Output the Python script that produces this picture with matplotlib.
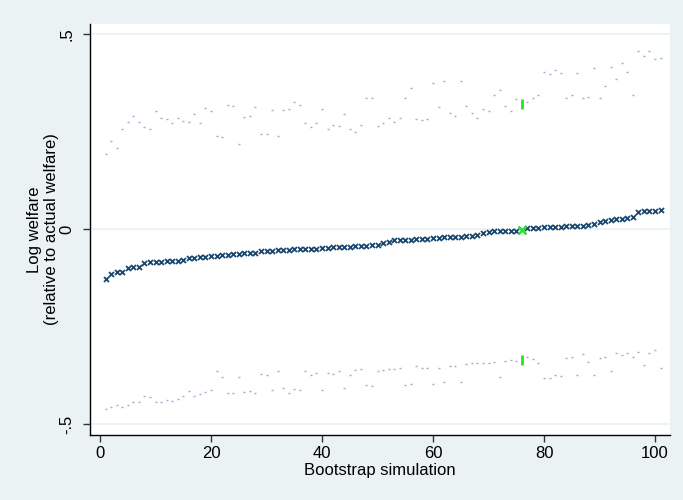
import numpy as np
import matplotlib.pyplot as plt

plt.rcParams['font.family'] = ['Liberation Sans', 'DejaVu Sans']

# bootstrap draws 1..101, sorted by point estimate
sim = np.arange(1, 102)

estimate = [
    -0.129, -0.115, -0.109, -0.109, -0.099, -0.097, -0.096, -0.086, -0.085, -0.085,
    -0.084, -0.082, -0.082, -0.081, -0.080, -0.075, -0.074, -0.072, -0.071, -0.068,
    -0.068, -0.067, -0.067, -0.064, -0.063, -0.062, -0.061, -0.060, -0.057, -0.057,
    -0.056, -0.054, -0.054, -0.053, -0.052, -0.051, -0.051, -0.050, -0.050, -0.049,
    -0.048, -0.047, -0.046, -0.045, -0.045, -0.044, -0.044, -0.043, -0.042, -0.041,
    -0.035, -0.032, -0.028, -0.028, -0.027, -0.027, -0.026, -0.025, -0.025, -0.024,
    -0.023, -0.021, -0.021, -0.020, -0.019, -0.018, -0.017, -0.016, -0.009, -0.007,
    -0.005, -0.005, -0.005, -0.005, -0.005, -0.001, 0.003, 0.003, 0.004, 0.005,
    0.005, 0.006, 0.006, 0.007, 0.008, 0.008, 0.009, 0.011, 0.014, 0.017,
    0.020, 0.024, 0.025, 0.026, 0.028, 0.030, 0.044, 0.046, 0.046, 0.047,
    0.048,
]

upper = [
    0.192, 0.227, 0.207, 0.256, 0.274, 0.289, 0.274, 0.263, 0.256, 0.302,
    0.285, 0.283, 0.271, 0.285, 0.277, 0.274, 0.296, 0.271, 0.311, 0.304,
    0.238, 0.235, 0.318, 0.315, 0.218, 0.288, 0.289, 0.314, 0.244, 0.245,
    0.306, 0.240, 0.306, 0.307, 0.327, 0.317, 0.273, 0.261, 0.271, 0.309,
    0.256, 0.268, 0.264, 0.296, 0.257, 0.250, 0.267, 0.336, 0.335, 0.265,
    0.271, 0.285, 0.274, 0.286, 0.337, 0.361, 0.282, 0.281, 0.282, 0.374,
    0.312, 0.379, 0.297, 0.289, 0.379, 0.315, 0.297, 0.286, 0.309, 0.303,
    0.344, 0.356, 0.315, 0.304, 0.333, 0.320, 0.325, 0.335, 0.343, 0.402,
    0.399, 0.409, 0.401, 0.336, 0.343, 0.401, 0.335, 0.338, 0.412, 0.336,
    0.368, 0.415, 0.384, 0.425, 0.404, 0.343, 0.456, 0.444, 0.456, 0.436,
    0.440,
]

lower = [
    -0.462, -0.456, -0.451, -0.456, -0.450, -0.443, -0.444, -0.428, -0.430, -0.444,
    -0.444, -0.439, -0.440, -0.435, -0.427, -0.416, -0.427, -0.424, -0.417, -0.413,
    -0.365, -0.380, -0.421, -0.421, -0.379, -0.419, -0.414, -0.421, -0.372, -0.373,
    -0.413, -0.365, -0.407, -0.421, -0.409, -0.412, -0.365, -0.374, -0.368, -0.412,
    -0.368, -0.372, -0.365, -0.407, -0.373, -0.362, -0.360, -0.400, -0.403, -0.365,
    -0.362, -0.360, -0.358, -0.357, -0.401, -0.398, -0.352, -0.355, -0.355, -0.396,
    -0.355, -0.392, -0.350, -0.350, -0.391, -0.347, -0.344, -0.344, -0.343, -0.344,
    -0.342, -0.378, -0.337, -0.336, -0.339, -0.335, -0.327, -0.334, -0.344, -0.383,
    -0.383, -0.375, -0.376, -0.331, -0.328, -0.375, -0.321, -0.340, -0.373, -0.331,
    -0.327, -0.365, -0.318, -0.324, -0.318, -0.327, -0.314, -0.348, -0.317, -0.309,
    -0.357,
]

actual_sim = 76  # the draw matching actual data

sim = np.asarray(sim)
estimate = np.asarray(estimate)
upper = np.asarray(upper)
lower = np.asarray(lower)
hit = sim == actual_sim

bg = '#EAF2F3'
navy = '#1A476F'
bound_c = '#97AFCA'
green = '#22E622'

fig = plt.figure(figsize=(6.83, 5.0), dpi=100, facecolor=bg)
ax = fig.add_axes([0.1318, 0.13, 0.8492, 0.822])
ax.set_facecolor('white')

for y in (-0.5, 0, 0.5):
    ax.axhline(y, color=bg, lw=1.2, zorder=0)

ax.plot(sim[~hit], upper[~hit], ls='none', marker='_', ms=2, mew=1.0, color=bound_c)
ax.plot(sim[~hit], lower[~hit], ls='none', marker='_', ms=2, mew=1.0, color=bound_c)
ax.plot(sim[~hit], estimate[~hit], ls='none', marker='x', ms=3.6, mew=1.3, color=navy)

ax.plot(sim[hit], upper[hit], ls='none', marker='|', ms=7, mew=2, color=green)
ax.plot(sim[hit], lower[hit], ls='none', marker='|', ms=7, mew=2, color=green)
ax.plot(sim[hit], estimate[hit], ls='none', marker='x', ms=6, mew=1.8, color=green)

ax.set_xlim(-1.8, 102.7)
ax.set_ylim(-0.528, 0.526)
ax.set_xticks([0, 20, 40, 60, 80, 100])
ax.set_yticks([-0.5, 0, 0.5])
ax.set_yticklabels(['-.5', '0', '.5'], rotation=90, va='center')

for s in ('top', 'right'):
    ax.spines[s].set_visible(False)
for s in ('left', 'bottom'):
    ax.spines[s].set_linewidth(1.0)
    ax.spines[s].set_color('black')

ax.tick_params(axis='both', direction='out', length=5, width=1, color='#333333',
               labelsize=12)
ax.tick_params(axis='x', pad=3)
ax.tick_params(axis='y', pad=6.5)

ax.set_xlabel('Bootstrap simulation', fontsize=12, labelpad=1)
ax.set_ylabel('Log welfare\n(relative to actual welfare)', fontsize=12,
              labelpad=0, linespacing=1.2)

fig.savefig('out.png', dpi=100, facecolor=bg)
